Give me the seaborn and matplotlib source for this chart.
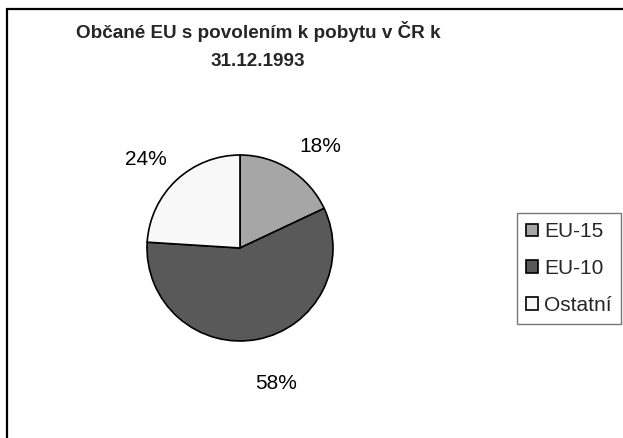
import matplotlib
matplotlib.use("Agg")
import matplotlib.pyplot as plt
from matplotlib.patches import Rectangle
import seaborn as sns

# --- data ---
kategorie = ["EU-15", "EU-10", "Ostatní"]
podily = [18, 58, 24]
barvy = ["#a6a6a6", "#595959", "#f8f8f8"]
titulek = ["Občané EU s povolením k pobytu v ČR k", "31.12.1993"]

# label placement (data units of the pie, radius = 1)
popisky_pozice = [(0.86, 1.09), (0.39, -1.46), (-1.01, 0.95)]

sns.set_theme(style="white")
plt.rcParams["font.family"] = ["Liberation Sans", "DejaVu Sans"]

W, H = 623, 438
fig = plt.figure(figsize=(W / 100, H / 100), dpi=100)

# border of the chart area (cropped on right and bottom like the original)
fig.patches.append(Rectangle((6.5 / W, -0.1), 1.2, 1.1 - 9.5 / H,
                             transform=fig.transFigure, fill=False,
                             edgecolor="black", linewidth=1.6))

# pie axes: centre (240, 248) px, radius 93 px
cx, cy, r = 240, 248, 93
ax = fig.add_axes([(cx - r) / W, (H - cy - r) / H, 2 * r / W, 2 * r / H])
wedges, texts, autotexts = ax.pie(
    podily, colors=barvy, startangle=90, counterclock=False,
    autopct="%d%%", pctdistance=1.4,
    wedgeprops={"edgecolor": "black", "linewidth": 1.2},
    textprops={"fontsize": 15, "color": "black"},
)
for t, pos in zip(autotexts, popisky_pozice):
    t.set_position(pos)
ax.set_xlim(-1, 1)
ax.set_ylim(-1, 1)

# title
fig.text(258 / W, 1 - 32 / H, titulek[0], ha="center", va="center",
         fontsize=13.6, fontweight="bold")
fig.text(258 / W, 1 - 62 / H, titulek[1], ha="center", va="center",
         fontsize=13.6, fontweight="bold")

leg = fig.legend(wedges, kategorie, loc="upper left",
                 bbox_to_anchor=(517 / W, 1 - 213 / H),
                 frameon=True, fancybox=False, edgecolor="#555555",
                 fontsize=15, handlelength=0.55, handleheight=0.55,
                 handletextpad=0.3, labelspacing=0.85, borderpad=0.45,
                 borderaxespad=0)
leg.get_frame().set_linewidth(1.0)

plt.savefig("out.png", dpi=100)
